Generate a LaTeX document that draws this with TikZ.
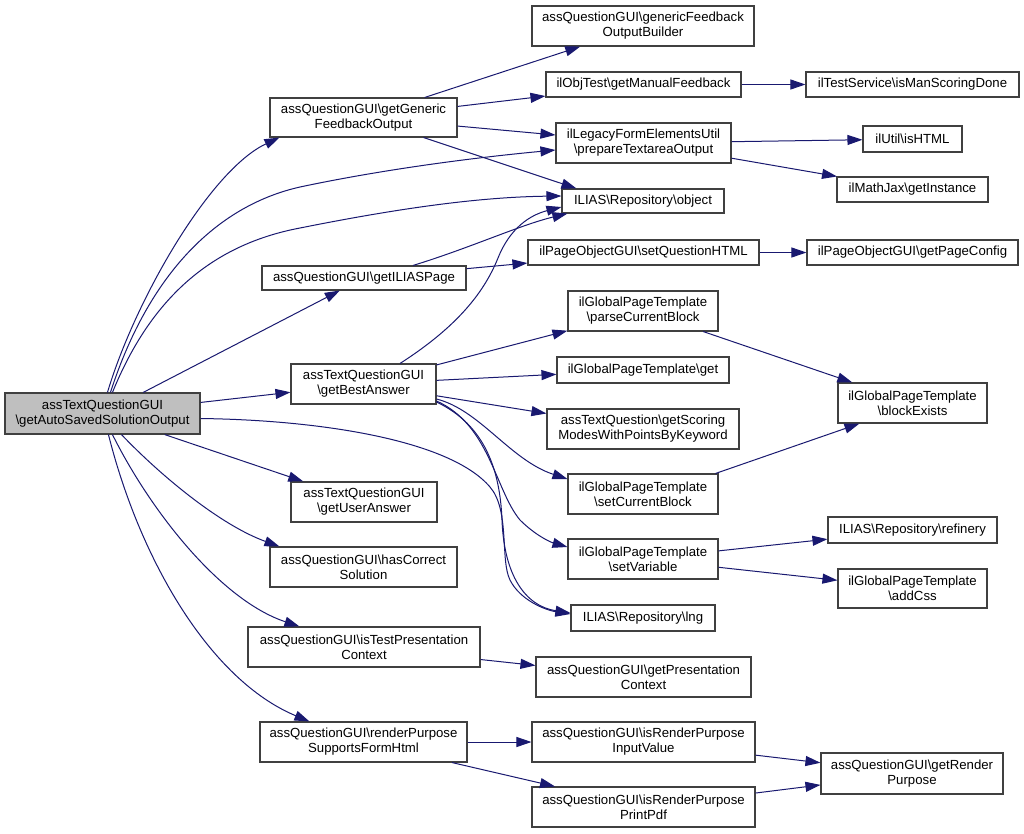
\documentclass[tikz,border=0pt]{standalone}
\usepackage{fontspec}
\setmainfont{Liberation Sans}
\usetikzlibrary{arrows.meta,calc}
\definecolor{edgecol}{RGB}{25,25,112}
\definecolor{framecol}{RGB}{64,64,64}
\definecolor{rootfill}{RGB}{191,191,191}
\newcommand\BSL{\textbackslash}
\begin{document}
\begin{tikzpicture}[x=1pt,y=-1pt,
  box/.style={draw=framecol, line width=1.1pt, fill=white, inner sep=0pt, align=center,
    font=\fontsize{13.2}{15}\selectfont},
  e/.style={draw=edgecol, line width=1pt, -{Triangle[length=15pt,width=10pt]}, edgecol}]
\fill[white] (0,0) rectangle (1024,833);
\useasboundingbox (0,0) rectangle (1024,833);

% nodes
\node[box, fill=rootfill, minimum width=195, minimum height=41] (root) at (102.5,413.5) {assTextQuestionGUI\\\BSL getAutoSavedSolutionOutput};
\node[box, minimum width=187, minimum height=39] (gfo) at (363.5,117.5) {assQuestionGUI\BSL getGeneric\\FeedbackOutput};
\node[box, minimum width=222, minimum height=40] (gfob) at (643,26) {assQuestionGUI\BSL genericFeedback\\OutputBuilder};
\node[box, minimum width=195, minimum height=25] (gmf) at (643.5,84.5) {ilObjTest\BSL getManualFeedback};
\node[box, minimum width=175, minimum height=40] (pto) at (643.5,143) {ilLegacyFormElementsUtil\\\BSL prepareTextareaOutput};
\node[box, minimum width=162, minimum height=24] (obj) at (643,201) {ILIAS\BSL Repository\BSL object};
\node[box, minimum width=213, minimum height=25] (imsd) at (912.5,84.5) {ilTestService\BSL isManScoringDone};
\node[box, minimum width=99, minimum height=26] (ishtml) at (912.5,139) {ilUtil\BSL isHTML};
\node[box, minimum width=151, minimum height=25] (gi) at (912.5,189.5) {ilMathJax\BSL getInstance};
\node[box, minimum width=211, minimum height=25] (gpc) at (912.5,252.5) {ilPageObjectGUI\BSL getPageConfig};
\node[box, minimum width=204, minimum height=24] (gip) at (364,278) {assQuestionGUI\BSL getILIASPage};
\node[box, minimum width=231, minimum height=25] (sqh) at (643.5,252.5) {ilPageObjectGUI\BSL setQuestionHTML};
\node[box, minimum width=150, minimum height=40] (pcb) at (643,311) {ilGlobalPageTemplate\\\BSL parseCurrentBlock};
\node[box, minimum width=145, minimum height=40] (gba) at (363.5,384) {assTextQuestionGUI\\\BSL getBestAnswer};
\node[box, minimum width=172, minimum height=26] (get) at (643,370) {ilGlobalPageTemplate\BSL get};
\node[box, minimum width=192, minimum height=40] (gsm) at (643,429) {assTextQuestion\BSL getScoring\\ModesWithPointsByKeyword};
\node[box, minimum width=146, minimum height=40] (gua) at (364,502) {assTextQuestionGUI\\\BSL getUserAnswer};
\node[box, minimum width=187, minimum height=40] (hcs) at (363.5,567) {assQuestionGUI\BSL hasCorrect\\Solution};
\node[box, minimum width=232, minimum height=40] (itpc) at (364,647) {assQuestionGUI\BSL isTestPresentation\\Context};
\node[box, minimum width=215, minimum height=40] (gpctx) at (643.5,677) {assQuestionGUI\BSL getPresentation\\Context};
\node[box, minimum width=207, minimum height=40] (rpsfh) at (363.5,742) {assQuestionGUI\BSL renderPurpose\\SupportsFormHtml};
\node[box, minimum width=150, minimum height=40] (scb) at (643,494) {ilGlobalPageTemplate\\\BSL setCurrentBlock};
\node[box, minimum width=150, minimum height=40] (sv) at (643,559) {ilGlobalPageTemplate\\\BSL setVariable};
\node[box, minimum width=144, minimum height=26] (lng) at (643,618) {ILIAS\BSL Repository\BSL lng};
\node[box, minimum width=149, minimum height=40] (be) at (912.5,403) {ilGlobalPageTemplate\\\BSL blockExists};
\node[box, minimum width=169, minimum height=26] (ref) at (912.5,530) {ILIAS\BSL Repository\BSL refinery};
\node[box, minimum width=149, minimum height=39] (css) at (912.5,588.5) {ilGlobalPageTemplate\\\BSL addCss};
\node[box, minimum width=223, minimum height=40] (irpiv) at (643.5,742) {assQuestionGUI\BSL isRenderPurpose\\InputValue};
\node[box, minimum width=223, minimum height=40] (irppp) at (643.5,807) {assQuestionGUI\BSL isRenderPurpose\\PrintPdf};
\node[box, minimum width=182, minimum height=41] (grp) at (912,773.5) {assQuestionGUI\BSL getRender\\Purpose};

% edges from root
\draw[e] ($(root.north west)+(103,0)$) .. controls (135,300) and (210,170) .. ($(gfo.south west)+(10,0)$);
\draw[e] ($(root.north west)+(106,0)$) .. controls (150,270) and (220,205) .. (300,187) .. controls (380,170) and (470,158) .. ($(pto.west)+(0,7)$);
\draw[e] ($(root.north west)+(108,0)$) .. controls (150,300) and (210,245) .. (300,228) .. controls (400,208) and (480,197) .. ($(obj.west)+(0,-5)$);
\draw[e] (root) -- (gip);
\draw[e] (root) -- (gba);
\draw[e] ($(root.east)+(0,5)$) .. controls (320,420) and (450,440) .. (490,487) .. controls (510,510) and (500,560) .. (510,580) .. controls (520,600) and (545,610) .. ($(lng.west)+(0,-4)$);
\draw[e] (root) -- (gua);
\draw[e] ($(root.south west)+(117,0)$) .. controls (160,475) and (220,525) .. ($(hcs.north west)+(10,0)$);
\draw[e] ($(root.south west)+(108,0)$) .. controls (150,510) and (220,600) .. ($(itpc.north west)+(52,0)$);
\draw[e] ($(root.south west)+(104,0)$) .. controls (140,560) and (210,680) .. ($(rpsfh.north west)+(50,0)$);

% getGenericFeedbackOutput
\draw[e] (gfo) -- (gfob);
\draw[e] (gfo) -- (gmf);
\draw[e] (gfo) -- (pto);
\draw[e] (gfo) -- ($(obj.north west)+(15,0)$);
\draw[e] (gmf) -- (imsd);
\draw[e] (pto) -- (ishtml);
\draw[e] (pto) -- (gi);

% getILIASPage
\draw[e] ($(gip.north)+(49,0)$) .. controls (470,248) and (520,225) .. ($(obj.south west)+(6,0)$);
\draw[e] (gip) -- (sqh);
\draw[e] (sqh) -- (gpc);

% getBestAnswer
\draw[e] ($(gba.north)+(36.5,0)$) .. controls (460,325) and (485,290) .. (498,258) .. controls (510,228) and (530,215) .. ($(obj.west)+(0,6)$);
\draw[e] (gba) -- (pcb);
\draw[e] (gba) -- (get);
\draw[e] (gba) -- (gsm);
\draw[e] ($(gba.east)+(0,15)$) .. controls (480,410) and (510,460) .. ($(scb.west)+(0,-15)$);
\draw[e] ($(gba.east)+(0,17)$) .. controls (490,425) and (495,490) .. (520,520) .. controls (535,535) and (550,542) .. ($(sv.west)+(0,-12)$);
\draw[e] ($(gba.east)+(0,18)$) .. controls (485,425) and (500,470) .. (502,520) .. controls (504,575) and (525,606) .. ($(lng.west)+(0,-5)$);

\draw[e] (pcb) -- (be);
\draw[e] ($(scb.north east)+(-3,0)$) -- ($(be.south west)+(22,0)$);
\draw[e] (sv) -- (ref);
\draw[e] (sv) -- (css);

\draw[e] (itpc) -- (gpctx);
\draw[e] (rpsfh) -- (irpiv);
\draw[e] (rpsfh) -- (irppp);
\draw[e] (irpiv) -- (grp);
\draw[e] (irppp) -- (grp);
\end{tikzpicture}
\end{document}
